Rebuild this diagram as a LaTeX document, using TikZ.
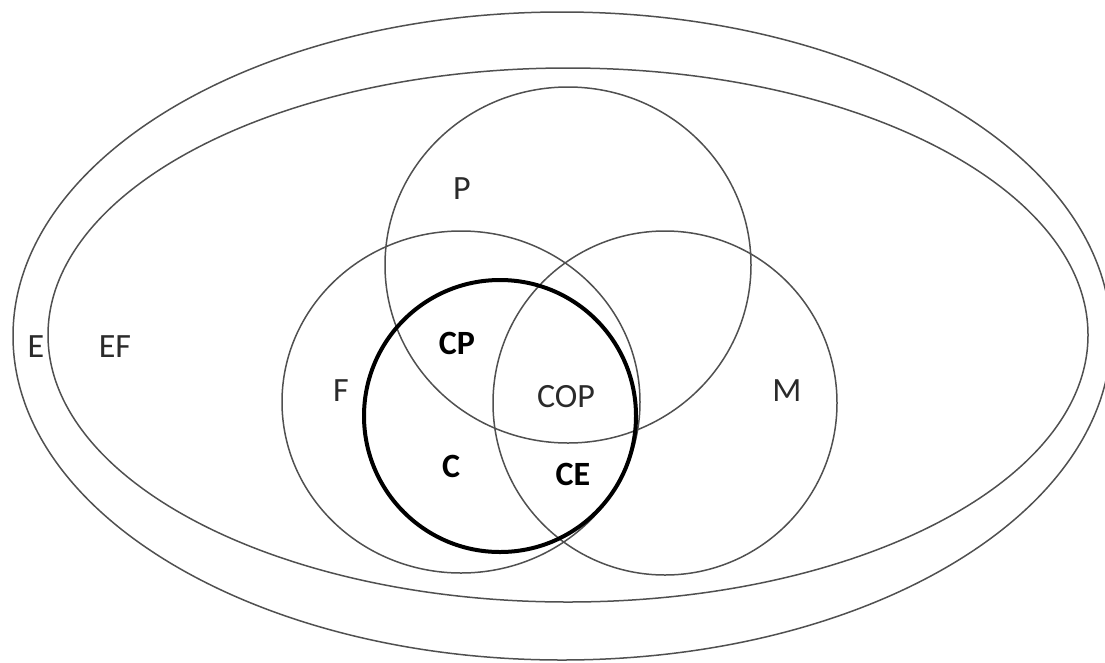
\documentclass[tikz,border=0pt]{standalone}
\usepackage{fontspec}
\setmainfont{Carlito}
\usetikzlibrary{shapes.geometric}
\definecolor{setline}{HTML}{505050}
\definecolor{settext}{HTML}{2A2A2A}
\tikzset{
  setring/.style={draw=setline, line width=1.5pt, inner sep=0pt},
  setcircle/.style={setring, circle},
  setoval/.style={setring, ellipse},
  setlabel/.style={font=\fontsize{34}{40}\selectfont, text=settext, inner sep=0pt},
  setlabelbold/.style={setlabel, font=\fontsize{34}{40}\selectfont\bfseries, text=black},
}

\begin{document}
\begin{tikzpicture}[x=1pt, y=-1pt]
  \useasboundingbox (0,0) rectangle (1105,662);

  % === outer sets ===
  \node[setoval, minimum width=1098pt, minimum height=648pt] (E) at (562,336) {};
  \node[setoval, minimum width=1040pt, minimum height=534pt] (EF) at (568,335) {};

  % === inner circles ===
  \node[setoval, minimum width=366pt, minimum height=356pt] (P) at (568,265) {};
  \node[setoval, minimum width=358pt, minimum height=342pt] (F) at (461,402) {};
  \node[setcircle, minimum size=344pt] (M) at (665,403) {};
  \node[setcircle, draw=black, line width=4pt, minimum size=272pt] (C) at (500,416) {};

  % === labels ===
  \node[setlabel] (lblE) at (36,347) {E};
  \node[setlabel] (lblEF) at (115,347) {EF};
  \node[setlabel] (lblP) at (462,189) {P};
  \node[setlabel] (lblF) at (341,391) {F};
  \node[setlabel] (lblM) at (787,391) {M};
  \node[setlabel] (lblCOP) at (566,397) {COP};
  \node[setlabelbold] (lblCP) at (457,343) {CP};
  \node[setlabelbold] (lblC) at (451,466) {C};
  \node[setlabelbold] (lblCE) at (573,474) {CE};
\end{tikzpicture}
\end{document}
